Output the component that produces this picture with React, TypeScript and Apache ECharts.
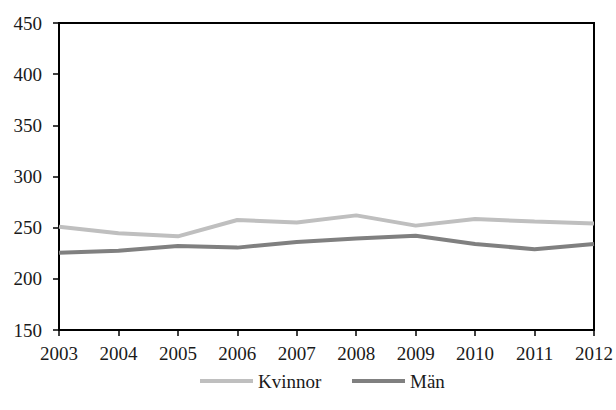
import React, { useEffect, useRef } from "react";
import * as echarts from "echarts";

const years = ["2003", "2004", "2005", "2006", "2007", "2008", "2009", "2010", "2011", "2012"];
const kvinnor = [251, 244.5, 241.5, 257.5, 255, 262, 252, 258.5, 256, 254];
const man = [225.5, 227.5, 232, 230.5, 236, 239.5, 242, 234, 229, 234];
const seriesNames = ["Kvinnor", "Män"];
const seriesColors = ["#bfbfbf", "#808080"];

const FONT = "Liberation Serif";

export default function App() {
  const ref = useRef<HTMLDivElement>(null);
  useEffect(() => {
    if (!ref.current) return;
    const chart = echarts.init(ref.current, undefined, { renderer: "svg" });
    const legendY = 381;
    const legendStarts = [200, 352];
    const legendGraphics: any[] = [];
    seriesNames.forEach((name, i) => {
      const x0 = legendStarts[i];
      legendGraphics.push({
        type: "line",
        shape: { x1: x0, y1: legendY, x2: x0 + 53, y2: legendY },
        style: { stroke: seriesColors[i], lineWidth: 4 },
        silent: true,
      });
      legendGraphics.push({
        type: "text",
        x: x0 + 58,
        y: legendY,
        style: {
          text: name,
          fontFamily: FONT,
          fontSize: 19,
          fill: "#1a1a1a",
          verticalAlign: "middle",
          align: "left",
        },
        silent: true,
      });
    });
    chart.setOption({
      animation: false,
      backgroundColor: "#ffffff",
      textStyle: { fontFamily: FONT },
      grid: {
        left: 59,
        right: 20,
        top: 23,
        bottom: 80,
        show: true,
        borderColor: "#000",
        borderWidth: 2,
        backgroundColor: "transparent",
      },
      graphic: legendGraphics,
      xAxis: {
        type: "category",
        data: years,
        boundaryGap: false,
        axisLine: { show: true, lineStyle: { color: "#000", width: 2 } },
        axisTick: { show: true, length: 6, lineStyle: { color: "#000", width: 1.5 } },
        axisLabel: { fontFamily: FONT, fontSize: 19, color: "#1a1a1a", margin: 14 },
        splitLine: { show: false },
      },
      yAxis: {
        type: "value",
        min: 150,
        max: 450,
        interval: 50,
        axisLine: { show: true, lineStyle: { color: "#000", width: 2 } },
        axisTick: { show: true, length: 6, lineStyle: { color: "#000", width: 1.5 } },
        axisLabel: { fontFamily: FONT, fontSize: 19, color: "#1a1a1a", margin: 17 },
        splitLine: { show: false },
      },
      series: [
        {
          name: seriesNames[0],
          type: "line",
          data: kvinnor,
          showSymbol: false,
          symbol: "none",
          lineStyle: { color: seriesColors[0], width: 4 },
          itemStyle: { color: seriesColors[0] },
        },
        {
          name: seriesNames[1],
          type: "line",
          data: man,
          showSymbol: false,
          symbol: "none",
          lineStyle: { color: seriesColors[1], width: 4 },
          itemStyle: { color: seriesColors[1] },
        },
      ],
    });
    return () => chart.dispose();
  }, []);
  return (
    <div
      ref={ref}
      style={{ position: "fixed", left: 0, top: 0, width: 616, height: 410 }}
    />
  );
}
